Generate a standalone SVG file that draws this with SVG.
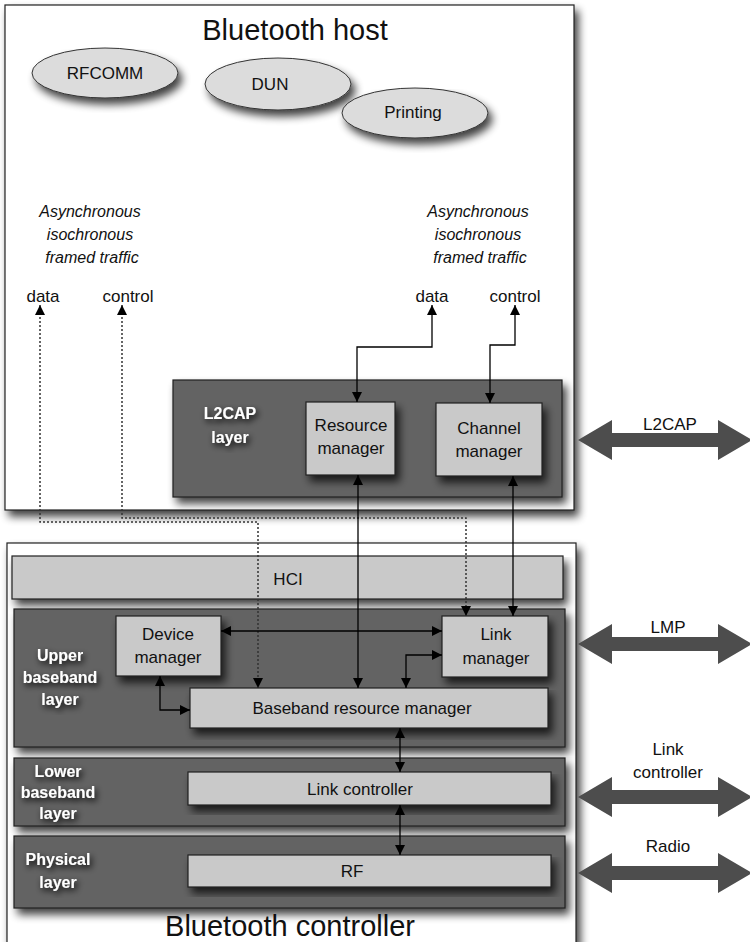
<svg xmlns="http://www.w3.org/2000/svg" width="750" height="942" viewBox="0 0 750 942">
<defs>
<filter id="sh" x="-10%" y="-10%" width="130%" height="140%">
<feGaussianBlur in="SourceAlpha" stdDeviation="4.5"/>
<feOffset dx="4" dy="6" result="b"/>
<feComponentTransfer><feFuncA type="linear" slope="0.75"/></feComponentTransfer>
<feMerge><feMergeNode/><feMergeNode in="SourceGraphic"/></feMerge>
</filter>
<filter id="glow" x="-20%" y="-20%" width="150%" height="160%">
<feGaussianBlur in="SourceAlpha" stdDeviation="3"/>
<feOffset dx="2" dy="3"/>
<feComponentTransfer><feFuncA type="linear" slope="1"/></feComponentTransfer>
<feMerge><feMergeNode/><feMergeNode in="SourceGraphic"/></feMerge>
</filter>
<marker id="ah" viewBox="0 0 10 10" refX="10" refY="5" markerWidth="10" markerHeight="10" markerUnits="userSpaceOnUse" orient="auto-start-reverse">
<path d="M0,0 L10,5 L0,10 Z" fill="#000"/>
</marker>
<style>
.t{font-family:"Liberation Sans",Arial,sans-serif;fill:#111;text-anchor:middle}
.title{font-size:29px}
.lbl{font-size:17px}
.it{font-size:16px;font-style:italic}
.lay{font-family:"Liberation Sans",Arial,sans-serif;font-size:16px;font-weight:bold;fill:#fff;text-anchor:middle;filter:url(#glow)}
.frame{fill:#fff;stroke:#222;stroke-width:1.2}
.dark{fill:#636363;stroke:#222;stroke-width:1.2}
.light{fill:#c9c9c9;stroke:#222;stroke-width:1.2}
.ell{fill:#dcdcdc;stroke:#333;stroke-width:1}
.c{fill:none;stroke:#000;stroke-width:1.3}
.d{fill:none;stroke:#333;stroke-width:1.5;stroke-dasharray:2,2}
.big{fill:#4d4d4d}
</style>
</defs>

<g id="host">
<rect class="frame" x="5" y="5" width="569" height="505" filter="url(#sh)"/>
<text class="t title" x="295" y="40">Bluetooth host</text>
</g>
<g id="controller">
<rect class="frame" x="7" y="543" width="569" height="420" filter="url(#sh)"/>
<text class="t title" x="290" y="936">Bluetooth controller</text>
</g>

<g id="rfcomm"><ellipse class="ell" cx="105" cy="73" rx="73" ry="25" filter="url(#sh)"/><text class="t lbl" x="105" y="79">RFCOMM</text></g>
<g id="dun"><ellipse class="ell" cx="278" cy="84" rx="73" ry="26" filter="url(#sh)"/><text class="t lbl" x="270" y="90">DUN</text></g>
<g id="printing"><ellipse class="ell" cx="415" cy="113" rx="73" ry="25" filter="url(#sh)"/><text class="t lbl" x="413" y="118">Printing</text></g>

<g id="traffic-left">
<text class="t it" x="90" y="217">Asynchronous</text>
<text class="t it" x="90" y="240">isochronous</text>
<text class="t it" x="92" y="263">framed traffic</text>
<text class="t lbl" x="43" y="302">data</text>
<text class="t lbl" x="128" y="302">control</text>
</g>
<g id="traffic-right">
<text class="t it" x="478" y="217">Asynchronous</text>
<text class="t it" x="478" y="240">isochronous</text>
<text class="t it" x="480" y="263">framed traffic</text>
<text class="t lbl" x="432" y="302">data</text>
<text class="t lbl" x="515" y="302">control</text>
</g>

<g id="l2cap-layer">
<rect class="dark" x="173" y="380" width="389" height="117" filter="url(#sh)"/>
<text class="lay" x="230" y="419">L2CAP</text>
<text class="lay" x="230" y="443">layer</text>
</g>
<g id="resource-manager"><rect class="light" x="306" y="402" width="89" height="73" filter="url(#sh)"/><text class="t lbl" x="351" y="431">Resource</text><text class="t lbl" x="351" y="454">manager</text></g>
<g id="channel-manager"><rect class="light" x="436" y="403" width="106" height="73" filter="url(#sh)"/><text class="t lbl" x="489" y="434">Channel</text><text class="t lbl" x="489" y="457">manager</text></g>

<g id="hci"><rect class="light" x="12" y="556" width="551" height="43" filter="url(#sh)"/><text class="t lbl" x="288" y="585">HCI</text></g>

<g id="upper-baseband">
<rect class="dark" x="14" y="609" width="551" height="138" filter="url(#sh)"/>
<text class="lay" x="60" y="661">Upper</text>
<text class="lay" x="60" y="683">baseband</text>
<text class="lay" x="60" y="705">layer</text>
</g>
<g id="device-manager"><rect class="light" x="116" y="616" width="105" height="60" filter="url(#sh)"/><text class="t lbl" x="168" y="640">Device</text><text class="t lbl" x="168" y="663">manager</text></g>
<g id="link-manager"><rect class="light" x="442" y="616" width="106" height="61" filter="url(#sh)"/><text class="t lbl" x="496" y="640">Link</text><text class="t lbl" x="496" y="664">manager</text></g>
<g id="baseband-resource-manager"><rect class="light" x="190" y="688" width="358" height="40" filter="url(#sh)"/><text class="t lbl" x="362" y="714">Baseband resource manager</text></g>

<g id="lower-baseband">
<rect class="dark" x="14" y="758" width="551" height="68" filter="url(#sh)"/>
<text class="lay" x="58" y="777">Lower</text>
<text class="lay" x="58" y="798">baseband</text>
<text class="lay" x="58" y="819">layer</text>
</g>
<g id="link-controller"><rect class="light" x="188" y="772" width="363" height="33" filter="url(#sh)"/><text class="t lbl" x="360" y="795">Link controller</text></g>

<g id="physical">
<rect class="dark" x="14" y="836" width="551" height="72" filter="url(#sh)"/>
<text class="lay" x="58" y="865">Physical</text>
<text class="lay" x="58" y="888">layer</text>
</g>
<g id="rf"><rect class="light" x="188" y="855" width="363" height="32" filter="url(#sh)"/><text class="t lbl" x="352" y="877">RF</text></g>

<g id="connectors">
<path class="d" d="M40,305 V522 H258 V688" marker-start="url(#ah)" marker-end="url(#ah)"/>
<path class="d" d="M122,305 V518 H466 V616" marker-start="url(#ah)" marker-end="url(#ah)"/>
<path class="c" d="M432,305 V347 H357 V402" marker-start="url(#ah)" marker-end="url(#ah)"/>
<path class="c" d="M515,305 V345 H490 V403" marker-start="url(#ah)" marker-end="url(#ah)"/>
<path class="c" d="M358,475 V688" marker-start="url(#ah)" marker-end="url(#ah)"/>
<path class="c" d="M513,476 V616" marker-start="url(#ah)" marker-end="url(#ah)"/>
<path class="c" d="M221,631 H442" marker-start="url(#ah)" marker-end="url(#ah)"/>
<path class="c" d="M406,688 V655 H442" marker-start="url(#ah)" marker-end="url(#ah)"/>
<path class="c" d="M160,676 V710 H190" marker-start="url(#ah)" marker-end="url(#ah)"/>
<path class="c" d="M400,728 V772" marker-start="url(#ah)" marker-end="url(#ah)"/>
<path class="c" d="M400,805 V855" marker-start="url(#ah)" marker-end="url(#ah)"/>
</g>

<g id="peer-l2cap">
<polygon class="big" points="578,440 612,420 612,433 718,433 718,420 752,440 718,460 718,447 612,447 612,460"/>
<text class="t lbl" x="670" y="430">L2CAP</text>
</g>
<g id="peer-lmp">
<polygon class="big" points="578,644 612,624 612,637 718,637 718,624 752,644 718,664 718,651 612,651 612,664"/>
<text class="t lbl" x="668" y="633">LMP</text>
</g>
<g id="peer-link-controller">
<polygon class="big" points="578,797 612,777 612,790 718,790 718,777 752,797 718,817 718,804 612,804 612,817"/>
<text class="t lbl" x="668" y="755">Link</text>
<text class="t lbl" x="668" y="778">controller</text>
</g>
<g id="peer-radio">
<polygon class="big" points="578,873 612,853 612,866 718,866 718,853 752,873 718,893 718,880 612,880 612,893"/>
<text class="t lbl" x="668" y="852">Radio</text>
</g>
</svg>
